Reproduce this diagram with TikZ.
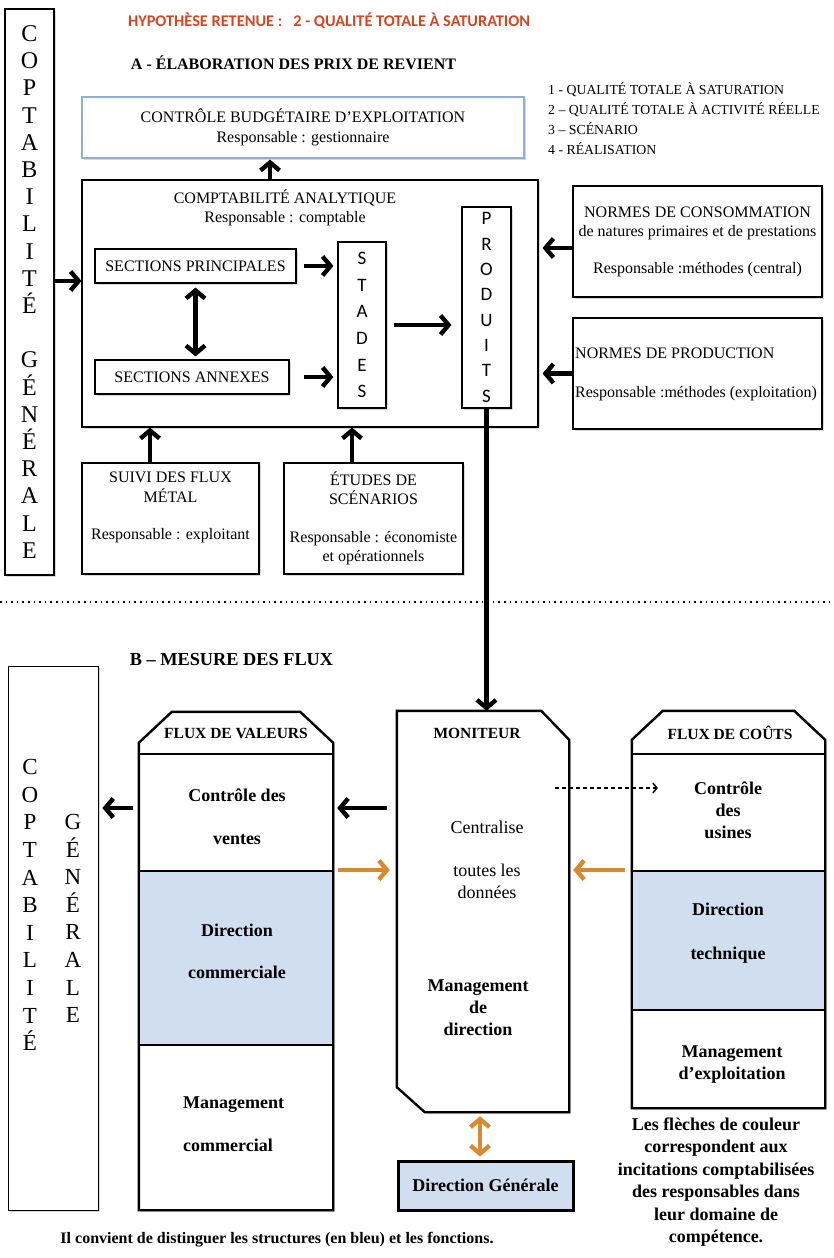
\documentclass[tikz,border=0pt]{standalone}
\usepackage{fontspec}
\setmainfont{Liberation Serif}
\newfontfamily\sanscal{Carlito}
\usetikzlibrary{arrows.meta,calc,shadows}
\definecolor{TitreClr}{rgb}{0.84,0.27,0.13}
\definecolor{FlecheClr}{rgb}{0.85,0.54,0.18}
\definecolor{BleuClr}{rgb}{0.82,0.87,0.94}
\definecolor{CadreClr}{rgb}{0.56,0.69,0.84}

\tikzset{
  ombre/.style={drop shadow={shadow xshift=1.8pt,shadow yshift=-1.8pt,fill=black!30}},
  boite/.style={draw,line width=1.1pt,fill=white,ombre,inner sep=0pt,align=center,font=\fontsize{16}{19.5}\selectfont},
  texte/.style={inner sep=0pt,align=center,font=\fontsize{16}{19.5}\selectfont},
  gras/.style={inner sep=0pt,align=center,font=\bfseries\fontsize{18}{22}\selectfont},
  entete/.style={inner sep=0pt,font=\bfseries\fontsize{15.5}{18}\selectfont},
  lettres/.style={inner sep=0pt,align=center,font=\fontsize{24}{27.2}\selectfont},
  zone/.style={inner sep=0pt},
  bleu/.style={fill=BleuClr,inner sep=0pt},
  contour/.style={line width=2.4pt,fill=white,ombre,line join=miter},
  separation/.style={line width=1.5pt},
  fleche/.style={line width=4.4pt,-{Straight Barb[length=8pt,width=19pt]}},
  flecheo/.style={fleche,draw=FlecheClr},
  doublefleche/.style={line width=4.4pt,{Straight Barb[length=8pt,width=19pt]}-{Straight Barb[length=8pt,width=19pt]}},
  tirets/.style={line width=1.5pt,dash pattern=on 4pt off 3pt,-{Straight Barb[length=4pt,width=10pt]}},
  pointilles/.style={line width=1.6pt,dash pattern=on 1.6pt off 4pt}
}

\begin{document}
\begin{tikzpicture}[x=1pt,y=-1pt]
\useasboundingbox (0,0) rectangle (833,1258);

\node[boite,lettres,minimum width=49,minimum height=566] (cg) at (29.5,292) {C\\O\\P\\T\\A\\B\\I\\L\\I\\T\\É\\[27.2pt]G\\É\\N\\É\\R\\A\\L\\E};

\node[inner sep=0pt,font=\sanscal\bfseries\fontsize{16.3}{19}\selectfont,text=TitreClr] (hyp) at (329,21) {HYPOTHÈSE RETENUE :\ \ \ 2 - QUALITÉ TOTALE À SATURATION};
\node[inner sep=0pt,font=\bfseries\fontsize{16}{19}\selectfont] (titreA) at (293.5,63) {A - ÉLABORATION DES PRIX DE REVIENT};
\node[anchor=west,inner sep=0pt,align=left,font=\fontsize{13.8}{20}\selectfont] (legende) at (548,119) {1 - QUALITÉ TOTALE À SATURATION\\2 – QUALITÉ TOTALE À ACTIVITÉ RÉELLE\\3 – SCÉNARIO\\4 - RÉALISATION};

\node[boite,draw=CadreClr,minimum width=442,minimum height=61] (cbe) at (303,127.5) {CONTRÔLE BUDGÉTAIRE D’EXPLOITATION\\Responsable : gestionnaire};

\node[boite,minimum width=456,minimum height=247] (ca) at (310,303.5) {};
\node[texte] (catitre) at (285,208) {COMPTABILITÉ ANALYTIQUE\\Responsable : comptable};
\node[boite,minimum width=201,minimum height=34] (sp) at (195.5,266) {SECTIONS PRINCIPALES};
\node[boite,minimum width=194,minimum height=34] (sa) at (192,377) {SECTIONS ANNEXES};
\node[boite,font=\sanscal\fontsize{19}{26.6}\selectfont,minimum width=48,minimum height=166] (stades) at (362,325) {S\\T\\A\\D\\E\\S};
\node[boite,font=\sanscal\fontsize{19}{25.3}\selectfont,minimum width=49,minimum height=201] (produits) at (486.5,307.5) {P\\R\\O\\D\\U\\I\\T\\S};

\node[boite,minimum width=249,minimum height=111] (ncons) at (697.5,241.5) {NORMES DE CONSOMMATION\\de natures primaires et de prestations\\[17pt]Responsable :méthodes (central)};
\node[boite,minimum width=249,minimum height=111] (nprod) at (697.5,373.5) {};
\node[texte,anchor=west,align=left] (nprodtxt) at (575,374.5) {NORMES DE PRODUCTION\\[19.5pt]Responsable :méthodes (exploitation)};

\node[boite,minimum width=177,minimum height=111] (suivi) at (170.5,518.5) {};
\node[texte] (suivitxt) at (170.5,507.5) {SUIVI DES FLUX\\MÉTAL\\[18pt]Responsable : exploitant};
\node[boite,minimum width=179,minimum height=111] (etudes) at (373.5,518.5) {ÉTUDES DE\\SCÉNARIOS\\[18pt]Responsable : économiste\\et opérationnels};

\draw[fleche,shorten >=1pt] (ca.north -| 270,0) -- (cbe.south -| 270,0);
\draw[fleche] (cg.east |- 0,281) -- (ca.west |- 0,281);
\draw[fleche,shorten <=7pt,shorten >=4pt] (sp.east) -- (stades.west |- sp.east);
\draw[fleche,shorten <=14pt,shorten >=4pt] (sa.east) -- (stades.west |- sa.east);
\draw[doublefleche,shorten <=4pt,shorten >=3pt] (sp.south) -- (sa.north -| sp.south);
\draw[fleche,shorten <=7pt,shorten >=10pt] (stades.east) -- (produits.west |- stades.east);
\draw[fleche,shorten >=4pt] (ncons.west |- 0,248) -- (ca.east |- 0,248);
\draw[fleche,shorten >=4pt] (nprod.west) -- (ca.east |- nprod.west);
\draw[fleche] (suivi.north -| 150,0) -- (ca.south -| 150,0);
\draw[fleche] (etudes.north -| 352,0) -- (ca.south -| 352,0);

\draw[pointilles] (0,602) -- (833,602);

\node[inner sep=0pt,font=\bfseries\fontsize{18.3}{21}\selectfont] (titreB) at (231.5,660) {B – MESURE DES FLUX};

\node[boite,line width=0.8pt,minimum width=90,minimum height=544] (cg2) at (53,938) {};
\node[lettres,font=\fontsize{23}{27.6}\selectfont] (cg2a) at (30,905) {C\\O\\P\\T\\A\\B\\I\\L\\I\\T\\É};
\node[lettres,font=\fontsize{23}{27.6}\selectfont] (cg2b) at (73,918.5) {G\\É\\N\\É\\R\\A\\L\\E};

\node[zone,minimum width=194,minimum height=498] (fv) at (236,961) {};
\draw[contour] ([xshift=33pt]fv.north west) -- ([xshift=-33pt]fv.north east) -- ([yshift=-31pt]fv.north east) -- (fv.south east) -- (fv.south west) -- ([yshift=-31pt]fv.north west) -- cycle;
\node[bleu,minimum width=192,minimum height=174] (fvbleu) at (236,958) {};
\draw[separation] (fv.west |- 0,754) -- (fv.east |- 0,754);
\draw[separation] (fvbleu.north west) -- (fvbleu.north east);
\draw[separation] (fvbleu.south west) -- (fvbleu.south east);
\node[entete] (fvtitre) at (236,733) {FLUX DE VALEURS};
\node[gras] (fvcv) at (237,816.5) {Contrôle des\\[21pt]ventes};
\node[gras] (fvdc) at (237,951) {Direction\\[20pt]commerciale};
\node[gras,anchor=west,align=left] (fvmc) at (183,1124.5) {Management\\[21pt]commercial};

\node[zone,minimum width=172,minimum height=401] (mon) at (483,911.5) {};
\draw[contour] (mon.north west) -- ([xshift=-28pt]mon.north east) -- ([yshift=-29pt]mon.north east) -- (mon.south east) -- ([xshift=28pt]mon.south west) -- ([yshift=25pt]mon.south west) -- cycle;
\node[entete] (montitre) at (477,733) {MONITEUR};
\node[texte,font=\fontsize{18}{22}\selectfont] (moncentr) at (487,860) {Centralise\\[21pt]toutes les\\données};
\node[gras] (monmgmt) at (478,1008) {Management\\de\\direction};

\node[zone,minimum width=193,minimum height=397] (fc) at (728.5,909.5) {};
\draw[contour] ([xshift=31pt]fc.north west) -- ([xshift=-31pt]fc.north east) -- ([yshift=-29pt]fc.north east) -- (fc.south east) -- (fc.south west) -- ([yshift=-29pt]fc.north west) -- cycle;
\node[bleu,minimum width=191,minimum height=139] (fcbleu) at (728.5,940.5) {};
\draw[separation] (fc.west |- 0,754) -- (fc.east |- 0,754);
\draw[separation] (fcbleu.north west) -- (fcbleu.north east);
\draw[separation] (fcbleu.south west) -- (fcbleu.south east);
\node[entete] (fctitre) at (730,733) {FLUX DE COÛTS};
\node[gras] (fccu) at (728,810) {Contrôle\\des\\usines};
\node[gras] (fcdt) at (728,933) {Direction\\[22pt]technique};
\node[gras] (fcme) at (732,1065) {Management\\d’exploitation};

\node[boite,fill=BleuClr,line width=3pt,minimum width=175,minimum height=49,font=\bfseries\fontsize{18}{22}\selectfont] (dg) at (485.5,1185.5) {Direction Générale};

\draw[fleche] (produits.south) -- (produits.south |- mon.north);
\draw[fleche,shorten <=6pt,shorten >=4pt] (fv.west |- 0,808) -- (cg2.east |- 0,808);
\draw[fleche,shorten <=10pt,shorten >=4pt] (mon.west |- 0,808) -- (fv.east |- 0,808);
\draw[flecheo,shorten <=5pt,shorten >=7pt] (fv.east |- 0,870) -- (mon.west |- 0,870);
\draw[flecheo,shorten <=7pt,shorten >=4pt] (fc.west |- 0,870) -- (mon.east |- 0,870);
\draw[tirets,shorten <=-14pt,shorten >=-26pt] (mon.east |- 0,788) -- (fc.west |- 0,788);
\draw[doublefleche,draw=FlecheClr,shorten <=4pt,shorten >=3pt] (mon.south -| 480,0) -- (dg.north -| 480,0);

\node[inner sep=0pt,font=\bfseries\fontsize{16}{19}\selectfont] (note) at (277,1240) {Il convient de distinguer les structures (en bleu) et les fonctions.};
\node[gras,font=\bfseries\fontsize{18}{22.4}\selectfont] (legcouleur) at (716,1182) {Les flèches de couleur\\correspondent aux\\incitations comptabilisées\\des responsables dans\\leur domaine de\\compétence.};

\end{tikzpicture}
\end{document}
